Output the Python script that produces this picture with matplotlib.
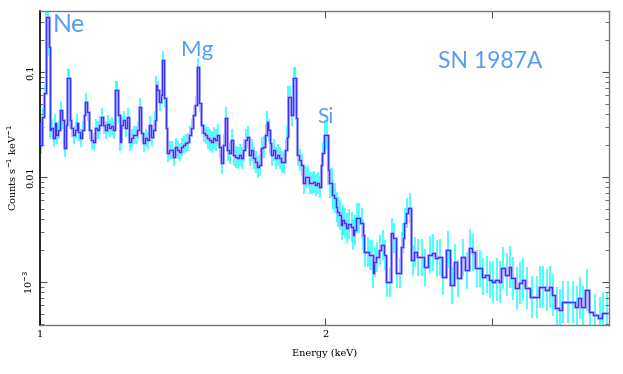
import numpy as np
from matplotlib import pyplot as plt
from matplotlib.ticker import FixedLocator, FixedFormatter, LogLocator, NullFormatter

# spectrum: energy (keV) and counts s^-1 keV^-1
energy = [
    1.000, 1.002, 1.007, 1.012, 1.015, 1.020, 1.022, 1.025, 1.030, 1.035,
    1.037, 1.042, 1.047, 1.052, 1.058, 1.063, 1.068, 1.070, 1.073, 1.076,
    1.081, 1.086, 1.092, 1.094, 1.099, 1.105, 1.110, 1.116, 1.118, 1.124,
    1.129, 1.135, 1.140, 1.146, 1.152, 1.157, 1.163, 1.168, 1.174, 1.180,
    1.186, 1.191, 1.197, 1.203, 1.206, 1.212, 1.215, 1.221, 1.227, 1.233,
    1.239, 1.245, 1.251, 1.257, 1.263, 1.269, 1.275, 1.282, 1.288, 1.294,
    1.300, 1.307, 1.313, 1.320, 1.323, 1.326, 1.332, 1.339, 1.345, 1.349,
    1.355, 1.362, 1.365, 1.372, 1.379, 1.385, 1.392, 1.399, 1.406, 1.412,
    1.419, 1.426, 1.433, 1.440, 1.447, 1.454, 1.461, 1.469, 1.476, 1.483,
    1.490, 1.497, 1.505, 1.512, 1.519, 1.527, 1.534, 1.542, 1.549, 1.557,
    1.564, 1.572, 1.580, 1.587, 1.595, 1.603, 1.611, 1.619, 1.626, 1.634,
    1.642, 1.650, 1.658, 1.666, 1.675, 1.683, 1.691, 1.699, 1.708, 1.716,
    1.724, 1.733, 1.737, 1.745, 1.750, 1.758, 1.767, 1.775, 1.784, 1.793,
    1.801, 1.810, 1.819, 1.824, 1.828, 1.837, 1.846, 1.855, 1.859, 1.868,
    1.873, 1.882, 1.891, 1.900, 1.910, 1.919, 1.928, 1.938, 1.947, 1.957,
    1.966, 1.976, 1.985, 1.990, 2.000, 2.010, 2.015, 2.024, 2.034, 2.039,
    2.049, 2.059, 2.064, 2.074, 2.084, 2.089, 2.099, 2.110, 2.120, 2.136,
    2.141, 2.151, 2.162, 2.172, 2.188, 2.194, 2.204, 2.220, 2.231, 2.242,
    2.248, 2.259, 2.270, 2.286, 2.303, 2.314, 2.325, 2.343, 2.354, 2.365,
    2.383, 2.400, 2.412, 2.418, 2.430, 2.441, 2.459, 2.477, 2.489, 2.508,
    2.532, 2.551, 2.582, 2.601, 2.626, 2.645, 2.665, 2.697, 2.724, 2.744,
    2.764, 2.798, 2.825, 2.846, 2.867, 2.894, 2.916, 2.937, 2.966, 2.988,
    3.009, 3.039, 3.061, 3.083, 3.114, 3.136, 3.159, 3.190, 3.214, 3.237,
    3.269, 3.309, 3.349, 3.374, 3.398, 3.432, 3.457, 3.482, 3.516, 3.542,
    3.568, 3.612, 3.656, 3.691, 3.718, 3.745, 3.782, 3.810, 3.857, 3.904,
    3.932, 3.970,
]
counts = [
    0.0327, 0.0202, 0.0373, 0.0631, 0.334, 0.334, 0.173, 0.0280, 0.0293, 0.0235,
    0.0327, 0.0251, 0.0280, 0.0435, 0.0349, 0.0189, 0.0313, 0.0877, 0.0877, 0.0349,
    0.0293, 0.0251, 0.0280, 0.0327, 0.0268, 0.0235, 0.0280, 0.0390, 0.0518, 0.0416,
    0.0280, 0.0225, 0.0215, 0.0293, 0.0280, 0.0313, 0.0373, 0.0313, 0.0280, 0.0320,
    0.0293, 0.0306, 0.0280, 0.0674, 0.0674, 0.0390, 0.0215, 0.0313, 0.0349, 0.0293,
    0.0373, 0.0215, 0.0235, 0.0251, 0.0251, 0.0280, 0.0464, 0.0262, 0.0211, 0.0235,
    0.0225, 0.0313, 0.0240, 0.0280, 0.0349, 0.0752, 0.0674, 0.0518, 0.0604, 0.130,
    0.0565, 0.0293, 0.0169, 0.0181, 0.0181, 0.0155, 0.0193, 0.0181, 0.0173, 0.0193,
    0.0202, 0.0211, 0.0215, 0.0251, 0.0293, 0.0390, 0.0485, 0.1116, 0.0507, 0.0313,
    0.0262, 0.0251, 0.0235, 0.0225, 0.0215, 0.0235, 0.0225, 0.0251, 0.0193, 0.0136,
    0.0202, 0.0365, 0.0181, 0.0169, 0.0225, 0.0162, 0.0155, 0.0152, 0.0162, 0.0152,
    0.0181, 0.0225, 0.0240, 0.0162, 0.0181, 0.0152, 0.0139, 0.0125, 0.0130, 0.0189,
    0.0193, 0.0251, 0.0334, 0.0280, 0.0211, 0.0162, 0.0181, 0.0152, 0.0162, 0.0152,
    0.0139, 0.0139, 0.0181, 0.0240, 0.0578, 0.0578, 0.0390, 0.0877, 0.0877, 0.0365,
    0.0162, 0.0145, 0.0130, 0.00877, 0.0100, 0.0100, 0.00877, 0.00877, 0.00896, 0.00839,
    0.00877, 0.00803, 0.0130, 0.0169, 0.0251, 0.0251, 0.0117, 0.00877, 0.00877, 0.00674,
    0.00631, 0.00518, 0.00464, 0.00435, 0.00349, 0.00390, 0.00365, 0.00327, 0.00357, 0.00334,
    0.00280, 0.00313, 0.00407, 0.00407, 0.00365, 0.00280, 0.00193, 0.00193, 0.00181, 0.00181,
    0.00122, 0.00155, 0.00173, 0.00202, 0.00225, 0.00181, 0.00100, 0.00100, 0.00293, 0.00262,
    0.00122, 0.00122, 0.00215, 0.00262, 0.00365, 0.00454, 0.00507, 0.00162, 0.00193, 0.00173,
    0.00173, 0.00139, 0.00181, 0.00189, 0.00169, 0.00173, 0.00112, 0.00202, 0.000936, 0.00155,
    0.00109, 0.00173, 0.00130, 0.00211, 0.00193, 0.00136, 0.00136, 0.00112, 0.00117, 0.00105,
    0.00100, 0.00105, 0.00100, 0.00136, 0.00117, 0.00139, 0.00109, 0.000877, 0.000978, 0.00105,
    0.000877, 0.000720, 0.000720, 0.000896, 0.000896, 0.000839, 0.000896, 0.000752, 0.000565, 0.000541,
    0.000645, 0.000645, 0.000645, 0.000578, 0.000704, 0.000578, 0.000839, 0.000518, 0.000485, 0.000454,
    0.000507, 0.000507,
]

# rough size of the cyan error bars (fraction of value) per energy band
err_band_edges = [1.0, 1.5, 2.0, 2.5, 3.0, 4.1]
err_band_frac = [0.22, 0.28, 0.38, 0.5, 0.6]

line_labels = ['Ne', 'Mg', 'Si']
line_label_pos = [(1.032, 0.28), (1.41, 0.16), (1.962, 0.0373)]
line_label_size = [18, 16, 15]
title_text = 'SN 1987A'

LABEL_BLUE = '#5a9cf2'


def main():
    E = np.array(energy)
    C = np.array(counts)
    band = np.clip(np.digitize(E, err_band_edges) - 1, 0, len(err_band_frac) - 1)
    frac = np.array(err_band_frac)[band]
    err_lo = C - C / (1 + frac)
    err_hi = C * frac

    fig = plt.figure(figsize=(6.23, 3.74), dpi=100)
    ax = fig.add_axes([40 / 623, 1 - 325 / 374, (609 - 40) / 623, (325 - 11) / 374])

    ax.errorbar(E, C, yerr=[err_lo, err_hi], fmt='none', ecolor='#00ffff',
                elinewidth=1.3, alpha=0.75, zorder=1)
    ax.step(E, C, where='mid', color='#aaaaff', lw=2.2, zorder=2)
    ax.step(E, C, where='mid', color='#3535ff', lw=0.9, zorder=3)

    ax.set_xscale('log')
    ax.set_yscale('log')
    ax.set_xlim(1.0, 3.99)
    ax.set_ylim(3.9e-4, 0.38)

    ax.xaxis.set_major_locator(FixedLocator([1, 2, 3]))
    ax.xaxis.set_major_formatter(FixedFormatter(['1', '2', '']))
    ax.xaxis.set_minor_locator(FixedLocator([]))
    ax.yaxis.set_major_locator(FixedLocator([1e-3, 1e-2, 1e-1]))
    ax.yaxis.set_major_formatter(FixedFormatter(['10$^{-3}$', '0.01', '0.1']))
    ax.yaxis.set_minor_locator(LogLocator(base=10, subs=np.arange(2, 10)))
    ax.yaxis.set_minor_formatter(NullFormatter())

    ax.tick_params(which='both', direction='in', top=True, right=True,
                   labelsize=7, color='#555555')
    ax.tick_params(which='major', length=5, width=0.8)
    ax.tick_params(which='minor', length=3, width=0.6)
    for lab in ax.get_xticklabels() + ax.get_yticklabels():
        lab.set_family('DejaVu Serif')
    for lab in ax.get_yticklabels():
        lab.set_rotation(90)
        lab.set_va('center')

    for side in ['top', 'right', 'bottom']:
        ax.spines[side].set_color('#777777')
        ax.spines[side].set_linewidth(1.0)
    ax.spines['left'].set_color('black')
    ax.spines['left'].set_linewidth(1.2)

    ax.set_xlabel('Energy (keV)', fontsize=7, family='DejaVu Serif', labelpad=7)
    ax.set_ylabel('Counts s$^{-1}$ keV$^{-1}$', fontsize=7, family='DejaVu Serif', labelpad=2)

    for name, (x, y), size in zip(line_labels, line_label_pos, line_label_size):
        ax.text(x, y, name, color=LABEL_BLUE, fontsize=size, family='Lato', va='center')
    ax.text(2.99, 0.1245, title_text, color=LABEL_BLUE, fontsize=16.5, family='Lato',
            ha='center', va='center')

    plt.savefig('out.png', dpi=100)


if __name__ == '__main__':
    main()
